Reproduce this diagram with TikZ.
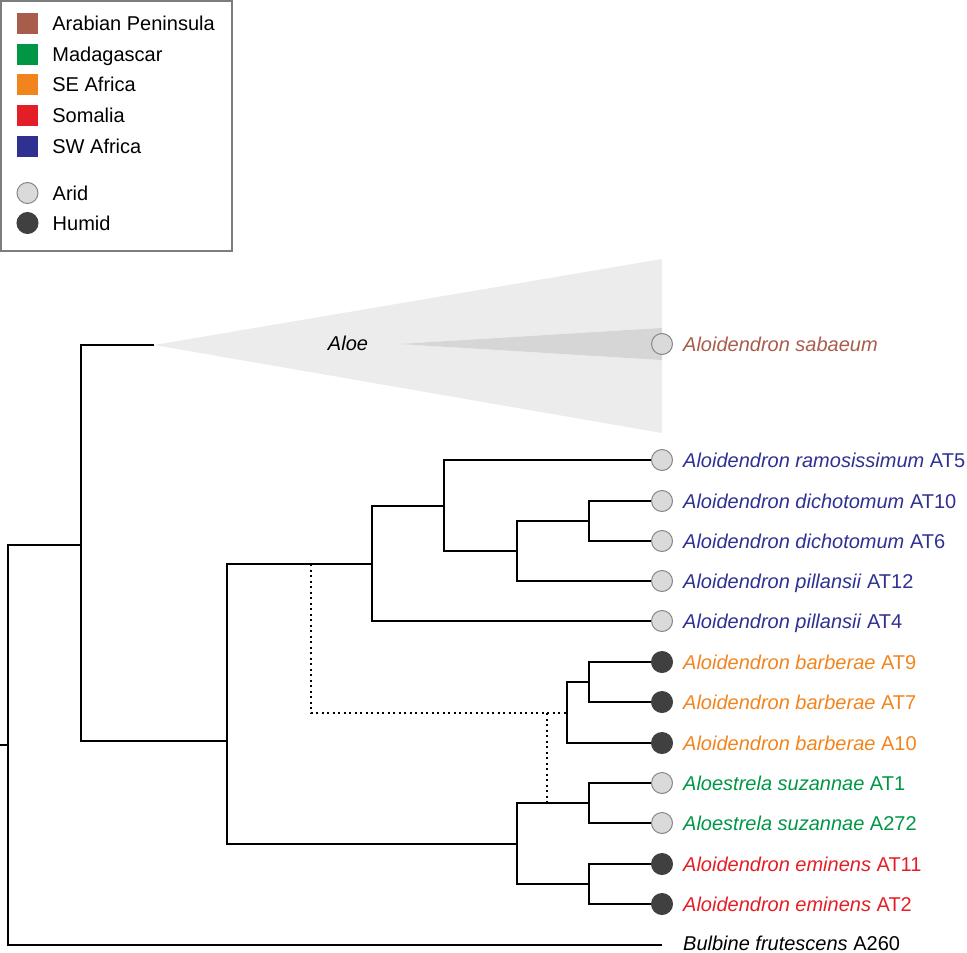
\documentclass[tikz,border=0pt]{standalone}
\usepackage{fontspec}
\setmainfont{Liberation Sans}
\usetikzlibrary{positioning}
\definecolor{arab}{RGB}{168,92,76}
\definecolor{mada}{RGB}{0,150,70}
\definecolor{seaf}{RGB}{242,132,30}
\definecolor{soma}{RGB}{228,30,38}
\definecolor{swaf}{RGB}{46,49,146}
\definecolor{aridfill}{RGB}{218,218,218}
\definecolor{aridline}{RGB}{135,135,135}
\definecolor{humid}{RGB}{64,64,64}
\definecolor{aloelight}{RGB}{236,236,236}
\definecolor{aloedark}{RGB}{214,214,214}
\definecolor{frame}{RGB}{125,125,125}

\begin{document}
\begin{tikzpicture}[x=1pt, y=-1pt, font=\fontsize{20}{24}\selectfont]
    \tikzstyle{Branch}=[line width=2pt]
    \tikzstyle{Dotted}=[line width=2pt, dash pattern=on 2.2pt off 3.3pt]
    \tikzstyle{Arid}=[circle, minimum size=21pt, inner sep=0pt, fill=aridfill, draw=aridline, line width=1pt]
    \tikzstyle{Humid}=[circle, minimum size=21pt, inner sep=0pt, fill=humid, draw=humid, line width=1pt]
    \tikzstyle{TipLabel}=[inner sep=0pt, text height=14.3pt, text depth=0pt]
    \tikzstyle{Swatch}=[minimum size=21pt, inner sep=0pt]
    \tikzstyle{LegendText}=[inner sep=0pt, text height=14.3pt, text depth=0pt]

    \useasboundingbox (0,0) rectangle (967,953);

    % legend
    \draw[frame, line width=1.5pt] (0.75,0.75) rectangle (232,251);
    \node[Swatch, fill=arab] (sw1) at (27.5,23) {};
    \node[Swatch, fill=mada] (sw2) at (27.5,54) {};
    \node[Swatch, fill=seaf] (sw3) at (27.5,84) {};
    \node[Swatch, fill=soma] (sw4) at (27.5,115) {};
    \node[Swatch, fill=swaf] (sw5) at (27.5,146) {};
    \node[Arid] (sw6) at (27.5,193) {};
    \node[Humid] (sw7) at (27.5,223) {};
    \node[LegendText, right=14pt of sw1] (lg1) {Arabian Peninsula};
    \node[LegendText, right=14pt of sw2] (lg2) {Madagascar};
    \node[LegendText, right=14pt of sw3] (lg3) {SE Africa};
    \node[LegendText, right=14pt of sw4] (lg4) {Somalia};
    \node[LegendText, right=14pt of sw5] (lg5) {SW Africa};
    \node[LegendText, right=14pt of sw6] (lg6) {Arid};
    \node[LegendText, right=14pt of sw7] (lg7) {Humid};

    % collapsed Aloe clade
    \coordinate (aloe) at (154,345);
    \fill[aloelight] (aloe) -- (662,259) -- (662,433) -- cycle;
    \fill[aloedark] (400,344) -- (662,328) -- (662,360) -- cycle;
    \node (aloelbl) at (348,343) {\textit{Aloe}};

    % inner nodes
    \coordinate (stub) at (0,745);
    \coordinate (root) at (8,745);
    \coordinate (nA) at (81,545);
    \coordinate (nB) at (227,741);
    \coordinate (nC) at (372,564);
    \coordinate (nD) at (444,506);
    \coordinate (nE) at (517,551);
    \coordinate (nF) at (589,521);
    \coordinate (nG) at (567,713);
    \coordinate (nH) at (589,682);
    \coordinate (nI) at (517,844);
    \coordinate (nJ) at (589,803);
    \coordinate (nK) at (589,884);
    \coordinate (dotA) at (311,564);
    \coordinate (dotB) at (547,803);
    \coordinate (bul) at (662,945);

    % tips
    \node[Arid] (sab) at (662,344) {};
    \node[Arid] (ram) at (662,460) {};
    \node[Arid] (dic10) at (662,501) {};
    \node[Arid] (dic6) at (662,541) {};
    \node[Arid] (pil12) at (662,581) {};
    \node[Arid] (pil4) at (662,621) {};
    \node[Humid] (bar9) at (662,662) {};
    \node[Humid] (bar7) at (662,702) {};
    \node[Humid] (bar10) at (662,743) {};
    \node[Arid] (suz1) at (662,783) {};
    \node[Arid] (suz272) at (662,823) {};
    \node[Humid] (emi11) at (662,864) {};
    \node[Humid] (emi2) at (662,904) {};

    \draw[Branch] (stub) -- (root);
    \foreach \p/\c in {root/nA, root/bul, nA/aloe, nA/nB, nB/nC, nB/nI,
                       nC/nD, nC/pil4, nD/ram, nD/nE, nE/nF, nE/pil12,
                       nF/dic10, nF/dic6, nG/nH, nG/bar10, nH/bar9, nH/bar7,
                       nI/nJ, nI/nK, nJ/suz1, nJ/suz272, nK/emi11, nK/emi2}
        \draw[Branch] (\p) |- (\c);
    \draw[Dotted] (dotA) |- (nG);
    \draw[Dotted] (dotB |- nG) -- (dotB);

    % tip labels
    \node[TipLabel, right=10pt of sab, text=arab] (tsab) {\textit{Aloidendron sabaeum}};
    \node[TipLabel, right=10pt of ram, text=swaf] (tram) {\textit{Aloidendron ramosissimum} AT5};
    \node[TipLabel, right=10pt of dic10, text=swaf] (tdic10) {\textit{Aloidendron dichotomum} AT10};
    \node[TipLabel, right=10pt of dic6, text=swaf] (tdic6) {\textit{Aloidendron dichotomum} AT6};
    \node[TipLabel, right=10pt of pil12, text=swaf] (tpil12) {\textit{Aloidendron pillansii} AT12};
    \node[TipLabel, right=10pt of pil4, text=swaf] (tpil4) {\textit{Aloidendron pillansii} AT4};
    \node[TipLabel, right=10pt of bar9, text=seaf] (tbar9) {\textit{Aloidendron barberae} AT9};
    \node[TipLabel, right=10pt of bar7, text=seaf] (tbar7) {\textit{Aloidendron barberae} AT7};
    \node[TipLabel, right=10pt of bar10, text=seaf] (tbar10) {\textit{Aloidendron barberae} A10};
    \node[TipLabel, right=10pt of suz1, text=mada] (tsuz1) {\textit{Aloestrela suzannae} AT1};
    \node[TipLabel, right=10pt of suz272, text=mada] (tsuz272) {\textit{Aloestrela suzannae} A272};
    \node[TipLabel, right=10pt of emi11, text=soma] (temi11) {\textit{Aloidendron eminens} AT11};
    \node[TipLabel, right=10pt of emi2, text=soma] (temi2) {\textit{Aloidendron eminens} AT2};
    \node[TipLabel, right=21pt of bul, yshift=2pt] (tbul) {\textit{Bulbine frutescens} A260};
\end{tikzpicture}
\end{document}
